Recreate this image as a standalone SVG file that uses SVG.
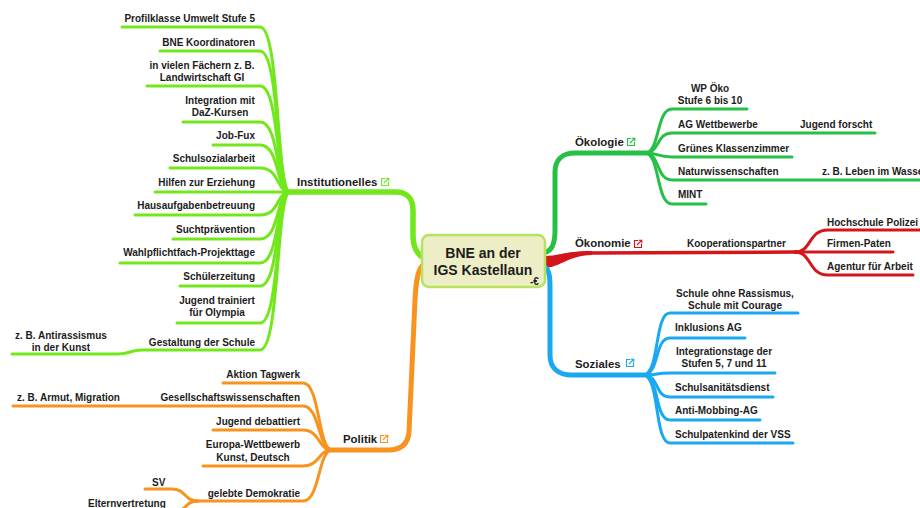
<svg xmlns="http://www.w3.org/2000/svg" xmlns:xlink="http://www.w3.org/1999/xlink" width="920" height="508" viewBox="0 0 920 508">
<style>
.t{font-family:"Liberation Sans",Arial,sans-serif;font-weight:bold;font-size:10px;fill:#1c1c1c}
.r{text-anchor:end}
.m{text-anchor:middle}
.big{font-size:11.4px}
.c{font-size:14px;text-anchor:middle}
.ln{fill:none;stroke-linecap:round;stroke-linejoin:round}
.lime{stroke:#72e81c}
.grn{stroke:#27c046}
.red{stroke:#d3161b}
.org{stroke:#f7931e}
.blu{stroke:#1aa9f0}
.w3{stroke-width:3}
.w5{stroke-width:5}
</style>
<defs>
<symbol id="lnk" viewBox="0 0 10 10">
<path d="M5 1.5H1.5V8.5H8.5V5" fill="none" stroke="currentColor" stroke-width="1.1"/>
<path d="M4 6L8.8 1.2M5.6 1.2H8.8V4.4" fill="none" stroke="currentColor" stroke-width="1.1"/>
</symbol>
</defs>
<rect width="920" height="508" fill="#ffffff"/>
<g id="connectors">
<!-- Institutionelles -->
<path class="ln lime" stroke-width="5.5" d="M424,258 C416,254 413,245 413,235 V210 C413,198 406,192 396,192 H286"/>
<g class="ln lime w3">
<path d="M122,27 H260 C280,27 276,192 290,192"/>
<path d="M160,51 H260 C280,51 276,192 290,192"/>
<path d="M147,86 H260 C280,86 276,192 290,192"/>
<path d="M183,122 H260 C280,122 276,192 290,192"/>
<path d="M213,145 H260 C280,145 276,192 290,192"/>
<path d="M170,168 H260 C280,168 276,192 290,192"/>
<path d="M155,192 H290"/>
<path d="M135,215 H260 C280,215 276,192 290,192"/>
<path d="M173,239 H260 C280,239 276,192 290,192"/>
<path d="M120,263 H260 C280,263 276,192 290,192"/>
<path d="M180,286 H260 C280,286 276,192 290,192"/>
<path d="M177,323 H260 C280,323 276,192 290,192"/>
<path d="M12,354 H118 C130,354 130,350 142,350 H260 C280,350 276,192 290,192"/>
</g>
<!-- Politik -->
<path class="ln org w5" d="M424,264 C418,268 416,280 415,300 L409,432 C408,445 400,450 388,450 H328"/>
<g class="ln org w3">
<path d="M223,383 H303 C320,383 318,450 332,450"/>
<path d="M13,406 H303 C320,406 318,450 332,450"/>
<path d="M213,430 H303 C320,430 318,450 332,450"/>
<path d="M203,466 H303 C320,466 318,450 332,450"/>
<path d="M197,501 H303 C320,501 318,450 332,450"/>
<path d="M145,489 H172 C186,489 184,501 198,501"/>
<path d="M85,513 H172 C186,513 184,501 198,501"/>
</g>
<!-- Oekologie -->
<path class="ln grn w5" d="M546,252 C553,250 555,242 555,230 V172 C555,160 562,153 575,153 H648"/>
<g class="ln grn w3">
<path d="M645,153 C660,153 656,109 672,109 H747"/>
<path d="M645,153 C660,153 656,133 672,133 H875"/>
<path d="M645,153 C660,153 656,157 672,157 H792"/>
<path d="M645,153 C660,153 656,180 672,180 H925"/>
<path d="M645,153 C660,153 656,204 672,204 H706"/>
</g>
<!-- Oekonomie -->
<path d="M543,256 C560,256 566,251 592,251 L592,255 C566,256 560,268 543,268 Z" fill="#d3161b"/>
<path class="ln red" stroke-width="3.5" d="M560,256 C570,254 575,253 592,253 L796,252"/>
<g class="ln red w3">
<path d="M795,252 C812,252 808,230 828,230 H925"/>
<path d="M795,252 H893"/>
<path d="M795,252 C812,252 808,275 828,275 H913"/>
</g>
<!-- Soziales -->
<path class="ln blu w5" d="M546,268 C550,272 550,280 550,290 V355 C550,368 558,375 572,375 H645"/>
<g class="ln blu w3">
<path d="M643,375 C660,375 654,313 670,313 H798"/>
<path d="M643,375 C660,375 654,338 670,338 H745"/>
<path d="M643,375 C660,375 654,373 670,373 H775"/>
<path d="M643,375 C660,375 654,397 670,397 H773"/>
<path d="M643,375 C660,375 654,420 670,420 H760"/>
<path d="M643,375 C660,375 654,443 670,443 H793"/>
</g>
</g>

<g id="center">
<rect x="422" y="235" width="123" height="52" rx="7" fill="#eeeec6" stroke="#b6e25e" stroke-width="2.5"/>
<text class="t c" x="483" y="258">BNE an der</text>
<text class="t c" x="483" y="275">IGS Kastellaun</text>
<text class="t" x="530" y="284.5" font-size="6">-€</text>
</g>

<g id="institutionelles">
<text class="t big" x="297" y="186">Institutionelles</text>
<use xlink:href="#lnk" x="380" y="177" width="10" height="10" style="color:#72e81c"/>
</g>
<g id="i1"><text class="t r" x="255" y="22">Profilklasse Umwelt Stufe 5</text></g>
<g id="i2"><text class="t r" x="255" y="46">BNE Koordinatoren</text></g>
<g id="i3"><text class="t m" x="202" y="69">in vielen Fächern z. B.</text><text class="t m" x="202" y="81">Landwirtschaft GI</text></g>
<g id="i4"><text class="t m" x="220" y="104">Integration mit</text><text class="t m" x="220" y="116">DaZ-Kursen</text></g>
<g id="i5"><text class="t r" x="255" y="139">Job-Fux</text></g>
<g id="i6"><text class="t r" x="255" y="162">Schulsozialarbeit</text></g>
<g id="i7"><text class="t r" x="255" y="186">Hilfen zur Erziehung</text></g>
<g id="i8"><text class="t r" x="255" y="209">Hausaufgabenbetreuung</text></g>
<g id="i9"><text class="t r" x="255" y="233">Suchtprävention</text></g>
<g id="i10"><text class="t r" x="255" y="256">Wahlpflichtfach-Projekttage</text></g>
<g id="i11"><text class="t r" x="255" y="280">Schülerzeitung</text></g>
<g id="i12"><text class="t m" x="217" y="304">Jugend trainiert</text><text class="t m" x="217" y="316">für Olympia</text></g>
<g id="i13"><text class="t r" x="255" y="346">Gestaltung der Schule</text></g>
<g id="i13a"><text class="t m" x="61" y="339">z. B. Antirassismus</text><text class="t m" x="61" y="351">in der Kunst</text></g>

<g id="politik">
<text class="t big" x="343" y="443">Politik</text>
<use xlink:href="#lnk" x="379" y="434" width="10" height="10" style="color:#f7931e"/>
</g>
<g id="p1"><text class="t r" x="300" y="378">Aktion Tagwerk</text></g>
<g id="p2"><text class="t r" x="300" y="401">Gesellschaftswissenschaften</text></g>
<g id="p2a"><text class="t" x="17" y="401">z. B. Armut, Migration</text></g>
<g id="p3"><text class="t r" x="300" y="425">Jugend debattiert</text></g>
<g id="p4"><text class="t m" x="253" y="448">Europa-Wettbewerb</text><text class="t m" x="253" y="461">Kunst, Deutsch</text></g>
<g id="p5"><text class="t r" x="300" y="497">gelebte Demokratie</text></g>
<g id="p5a"><text class="t" x="152" y="486">SV</text></g>
<g id="p5b"><text class="t" x="88" y="507">Elternvertretung</text></g>

<g id="oekologie">
<text class="t big" x="575" y="146">Ökologie</text>
<use xlink:href="#lnk" x="626" y="137" width="10" height="10" style="color:#27c046"/>
</g>
<g id="o1"><text class="t m" x="710" y="92">WP Öko</text><text class="t m" x="710" y="104">Stufe 6 bis 10</text></g>
<g id="o2"><text class="t" x="678" y="128">AG Wettbewerbe</text></g>
<g id="o2a"><text class="t" x="800" y="128">Jugend forscht</text></g>
<g id="o3"><text class="t" x="678" y="152">Grünes Klassenzimmer</text></g>
<g id="o4"><text class="t" x="678" y="175">Naturwissenschaften</text></g>
<g id="o4a"><text class="t" x="822" y="175">z. B. Leben im Wasser</text></g>
<g id="o5"><text class="t" x="678" y="198">MINT</text></g>

<g id="oekonomie">
<text class="t big" x="575" y="247">Ökonomie</text>
<use xlink:href="#lnk" x="633" y="239" width="10" height="10" style="color:#d3161b"/>
</g>
<g id="k1"><text class="t" x="687" y="247">Kooperationspartner</text></g>
<g id="k1a"><text class="t" x="827" y="226">Hochschule Polizei</text></g>
<g id="k1b"><text class="t" x="827" y="247">Firmen-Paten</text></g>
<g id="k1c"><text class="t" x="827" y="270">Agentur für Arbeit</text></g>

<g id="soziales">
<text class="t big" x="575" y="368">Soziales</text>
<use xlink:href="#lnk" x="625" y="358" width="10" height="10" style="color:#1aa9f0"/>
</g>
<g id="s1"><text class="t m" x="735" y="297">Schule ohne Rassismus,</text><text class="t m" x="735" y="309">Schule mit Courage</text></g>
<g id="s2"><text class="t" x="675" y="331">Inklusions AG</text></g>
<g id="s3"><text class="t m" x="724" y="355">Integrationstage der</text><text class="t m" x="724" y="367">Stufen 5, 7 und 11</text></g>
<g id="s4"><text class="t" x="675" y="391">Schulsanitätsdienst</text></g>
<g id="s5"><text class="t" x="675" y="414">Anti-Mobbing-AG</text></g>
<g id="s6"><text class="t" x="675" y="438">Schulpatenkind der VSS</text></g>
</svg>
